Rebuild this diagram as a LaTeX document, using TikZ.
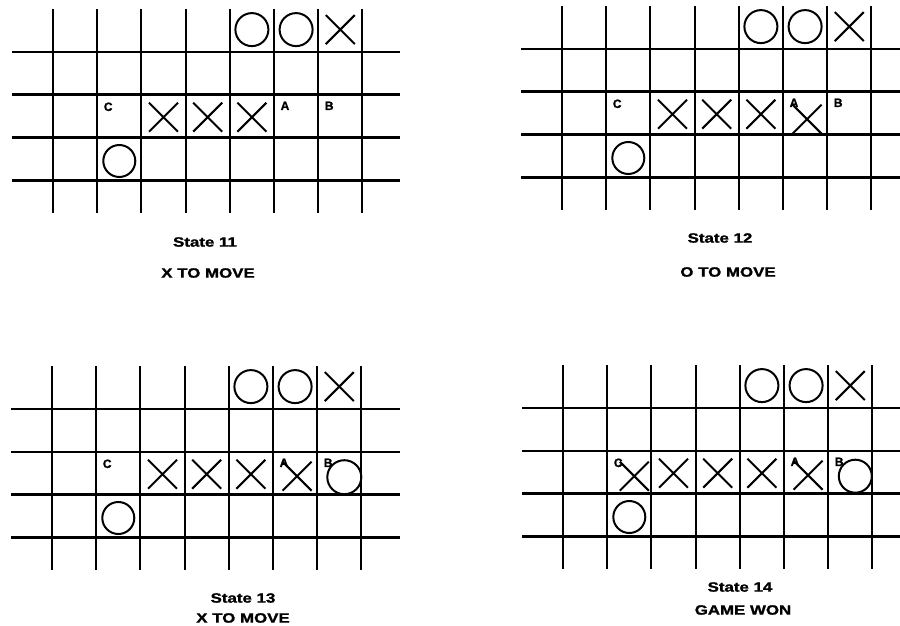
\documentclass[tikz,border=0pt]{standalone}
\usepackage{fontspec}
\usepackage{graphicx}
\setmainfont{Liberation Sans}
\newfontfamily\heavyfont{Liberation Sans Bold}[FakeBold=1.2]
\usetikzlibrary{shapes.misc}
\tikzset{
  hline/.style={line width=2.6pt, black},
  vline/.style={line width=2.1pt, black},
  opiece/.style={circle, draw, line width=2pt, minimum size=33pt, inner sep=0pt},
  xpiece/.style={cross out, draw, line width=2pt, minimum size=27pt, inner sep=0pt},
  celllabel/.style={font=\heavyfont\fontsize{12}{12}\selectfont, inner sep=0pt},
  caption/.style={font=\heavyfont\fontsize{13.5}{13.5}\selectfont, inner sep=0pt},
}
\newcommand{\wide}[1]{\scalebox{1.25}[1]{#1}}
\newcommand{\cx}[1]{(#1*44.2-22.1)}
\newcommand{\cy}[1]{(#1*42.8-21.4)}
\newcommand{\boardgrid}[1]{%
  \foreach \i in {0,...,7} \draw[vline] (\i*44.2,-43) -- (\i*44.2,161);
  \foreach \j in {0,...,3} \draw[hline] (-41,\j*42.8) -- (#1,\j*42.8);
}
\newcommand{\basepieces}[1]{%
  \node[opiece] (#1-o1) at ({\cx{5}},{\cy{0}-1}) {};
  \node[opiece] (#1-o2) at ({\cx{6}},{\cy{0}-1}) {};
  \node[xpiece] (#1-x1) at ({\cx{7}},{\cy{0}-1}) {};
  \node[xpiece] (#1-x2) at ({\cx{3}},{\cy{2}+1}) {};
  \node[xpiece] (#1-x3) at ({\cx{4}},{\cy{2}+1}) {};
  \node[xpiece] (#1-x4) at ({\cx{5}},{\cy{2}+1}) {};
  \node[opiece,minimum size=32pt] (#1-o3) at ({\cx{2}},{\cy{3}+2}) {};
  \node[celllabel] (#1-c) at (2*44.2-44.2+11,42.8+12) {C};
  \node[celllabel] (#1-a) at (6*44.2-44.2+11,42.8+11) {A};
  \node[celllabel] (#1-b) at (7*44.2-44.2+11,42.8+11) {B};
}
\begin{document}
\begin{tikzpicture}[x=1pt,y=-1pt]
\useasboundingbox (0,0) rectangle (900,626);
\fill[white] (0,0) rectangle (900,626);
% State 11
\begin{scope}[shift={(53,52)}]
  \boardgrid{347}
  \basepieces{b1}
\end{scope}
% State 12
\begin{scope}[shift={(562,49)}]
  \boardgrid{338}
  \basepieces{b2}
  \node[xpiece] (b2-x5) at ({\cx{6}+2},{\cy{2}+6}) {};
\end{scope}
% State 13
\begin{scope}[shift={(52,409)}]
  \boardgrid{348}
  \basepieces{b3}
  \node[xpiece] (b3-x5) at ({\cx{6}+2},{\cy{2}+3}) {};
  \node[opiece,minimum size=34pt] (b3-o4) at ({\cx{7}+5},{\cy{2}+4}) {};
\end{scope}
% State 14
\begin{scope}[shift={(563,408)}]
  \boardgrid{337}
  \basepieces{b4}
  \node[xpiece] (b4-x5) at ({\cx{6}+2},{\cy{2}+3}) {};
  \node[xpiece] (b4-x6) at ({\cx{2}+5},{\cy{2}+4}) {};
  \node[opiece,minimum size=33pt] (b4-o4) at ({\cx{7}+5},{\cy{2}+4}) {};
\end{scope}
% captions
\node[caption] (s11) at (205,242) {\wide{State 11}};
\node[caption] (m11) at (208,273) {\wide{X TO MOVE}};
\node[caption] (s12) at (720,238) {\wide{State 12}};
\node[caption] (m12) at (728,272) {\wide{O TO MOVE}};
\node[caption] (s13) at (243,598) {\wide{State 13}};
\node[caption] (m13) at (243,618) {\wide{X TO MOVE}};
\node[caption] (s14) at (740,587) {\wide{State 14}};
\node[caption] (m14) at (743,610) {\wide{GAME WON}};
\end{tikzpicture}
\end{document}
